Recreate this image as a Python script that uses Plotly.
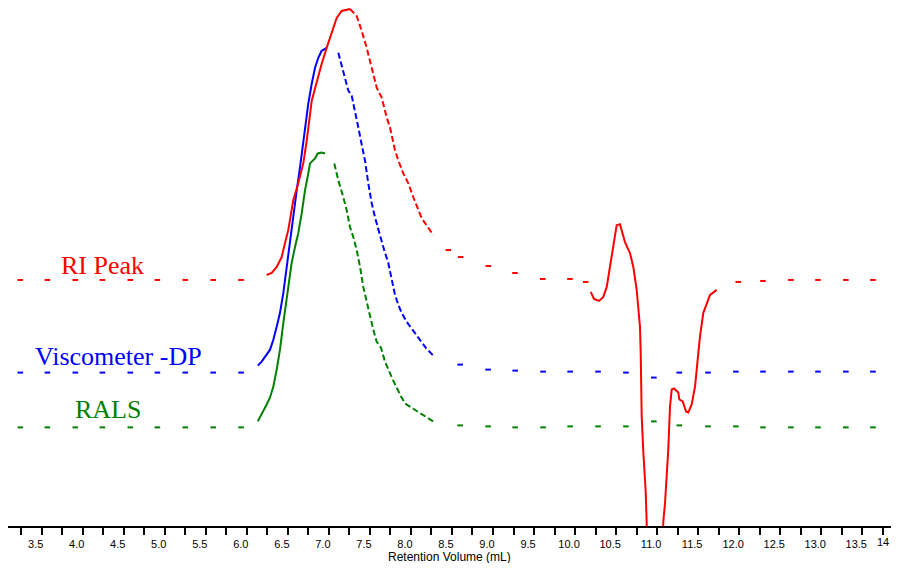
import plotly.graph_objects as go

# ---------------- data (retention volume in mL, detector response in arbitrary units) -------------
base_left_x = [3.24, 3.57, 3.91, 4.24, 4.58, 4.91, 5.25, 5.59, 5.93]
tail_x = [8.60, 8.94, 9.27, 9.61, 9.94, 10.28, 10.62, 10.96, 11.27, 11.62, 11.96,
          12.29, 12.63, 12.96, 13.30, 13.63]

# RI detector
ri_base_y = [246] * 9
ri_rise_x = [6.242, 6.303, 6.364, 6.425, 6.465, 6.505, 6.566, 6.627, 6.688, 6.730,
             6.791, 6.852, 6.912, 6.973, 7.034, 7.095, 7.156, 7.257]
ri_rise_y = [251, 253, 259, 269, 283, 296, 326, 343, 363, 386,
             426, 446, 463, 479, 493, 509, 516, 518]
ri_fall_x = [7.257, 7.339, 7.400, 7.461, 7.522, 7.583, 7.644, 7.705, 7.745, 7.806,
             7.846, 7.907, 7.968, 8.029, 8.131, 8.272]
ri_fall_y = [518, 511, 496, 479, 459, 439, 429, 409, 399, 376,
             366, 353, 343, 329, 308, 291]
ri_tail_x = [8.455, 8.606, 8.943, 9.268, 9.606, 9.938, 10.130, 11.989,
             12.29, 12.63, 12.96, 13.30, 13.63]
ri_tail_y = [276, 269, 260, 253, 247, 247, 244, 244, 245, 246, 246, 246, 246]
ri_sys_x = [10.191, 10.231, 10.292, 10.344, 10.386, 10.426, 10.466, 10.507, 10.547, 10.608,
            10.669, 10.710, 10.751, 10.771, 10.791, 10.800, 10.812, 10.832, 10.861, 10.873,
            10.890, 11.060, 11.075, 11.097, 11.136, 11.157, 11.178, 11.206, 11.258, 11.271,
            11.312, 11.352, 11.380, 11.421, 11.462, 11.482, 11.522, 11.563, 11.604, 11.645,
            11.726]
ri_sys_y = [234, 227, 225, 229, 239, 259, 283, 301, 302, 284,
            273, 259, 236, 218, 199, 173, 109, 73, 33, 1,
            -60, -60, 3, 23, 76, 119, 136, 137, 133, 126,
            124, 114, 113, 121, 139, 156, 189, 213, 223, 231,
            236]

# Viscometer -DP
dp_base_y = [153] * 9
dp_rise_x = [6.133, 6.181, 6.283, 6.323, 6.364, 6.404, 6.445, 6.486, 6.526, 6.566,
             6.608, 6.648, 6.709, 6.749, 6.791, 6.831, 6.871, 6.912, 6.973]
dp_rise_y = [160, 164, 176, 186, 199, 213, 233, 259, 286, 313,
             336, 359, 399, 423, 443, 459, 469, 476, 479]
dp_fall_x = [7.115, 7.176, 7.237, 7.278, 7.318, 7.359, 7.407, 7.440, 7.480, 7.522,
             7.562, 7.602, 7.663, 7.724, 7.773, 7.806, 7.846, 7.887, 7.948, 8.041,
             8.090, 8.180, 8.272]
dp_fall_y = [474, 456, 436, 431, 416, 399, 379, 366, 343, 323,
             309, 296, 279, 263, 243, 231, 221, 213, 204, 194,
             188, 178, 170]
dp_tail_y = [161, 156, 155, 154, 154, 154, 153, 148, 153, 153, 154,
             154, 154, 154, 154, 154]

# RALS
rals_base_y = [98] * 9
rals_rise_x = [6.133, 6.181, 6.242, 6.283, 6.323, 6.364, 6.404, 6.445, 6.486, 6.546,
               6.587, 6.627, 6.669, 6.709, 6.749, 6.770, 6.831, 6.864, 6.912, 6.953]
rals_rise_y = [104, 111, 121, 128, 139, 156, 176, 203, 226, 263,
               279, 293, 313, 336, 353, 363, 368, 373, 374, 373]
rals_fall_x = [7.066, 7.115, 7.176, 7.217, 7.257, 7.298, 7.339, 7.380, 7.419, 7.461,
               7.501, 7.541, 7.583, 7.635, 7.684, 7.724, 7.778, 7.879, 7.928, 8.098,
               8.272]
rals_fall_y = [363, 346, 329, 316, 299, 289, 276, 259, 239, 223,
               209, 196, 184, 178, 164, 156, 146, 129, 122, 113,
               104]
rals_tail_y = [100, 99, 98, 98, 99, 99, 99, 104, 100, 99, 99,
               98, 98, 98, 98, 98]

series_labels = ["RI Peak", "Viscometer -DP", "RALS"]
label_x = [4.247, 4.431, 4.309]
label_y = [261, 169, 116]

x_ticks = [3.5 + 0.5 * i for i in range(21)]
x_tick_text = ["%.1f" % v for v in x_ticks]

RED, BLUE, GREEN = "#ff0000", "#0000ff", "#008000"

fig = go.Figure()


def add_series(color, bx, by, rx, ry, fx, fy, tx, ty):
    fig.add_trace(go.Scatter(x=bx + tx, y=by + ty, mode="markers",
                             marker=dict(symbol="line-ew", size=4, color=color,
                                         line=dict(color=color, width=2)),
                             hoverinfo="skip", showlegend=False))
    fig.add_trace(go.Scatter(x=rx, y=ry, mode="lines",
                             line=dict(color=color, width=2),
                             hoverinfo="skip", showlegend=False))
    fig.add_trace(go.Scatter(x=fx, y=fy, mode="lines",
                             line=dict(color=color, width=2, dash="6px,3px"),
                             hoverinfo="skip", showlegend=False))


add_series(GREEN, base_left_x, rals_base_y, rals_rise_x, rals_rise_y,
           rals_fall_x, rals_fall_y, tail_x, rals_tail_y)
add_series(BLUE, base_left_x, dp_base_y, dp_rise_x, dp_rise_y,
           dp_fall_x, dp_fall_y, tail_x, dp_tail_y)
add_series(RED, base_left_x, ri_base_y, ri_rise_x, ri_rise_y,
           ri_fall_x, ri_fall_y, ri_tail_x, ri_tail_y)
fig.add_trace(go.Scatter(x=ri_sys_x, y=ri_sys_y, mode="lines",
                         line=dict(color=RED, width=2),
                         hoverinfo="skip", showlegend=False))

for text, lx, ly, col in zip(series_labels, label_x, label_y, [RED, BLUE, GREEN]):
    fig.add_annotation(x=lx, y=ly, xref="x", yref="y", text=text, showarrow=False,
                       font=dict(family="Liberation Serif", size=26, color=col),
                       xanchor="center", yanchor="middle")

fig.add_annotation(x=0.5, y=-0.06, xref="paper", yref="paper",
                   text="Retention Volume (mL)", showarrow=False,
                   font=dict(family="Liberation Sans", size=12, color="black"),
                   xanchor="center", yanchor="middle")
fig.add_annotation(x=1.0, y=-0.031, xref="paper", yref="paper",
                   text="14", showarrow=False,
                   font=dict(family="Liberation Sans", size=11, color="black"),
                   xanchor="right", yanchor="middle")

fig.update_layout(
    width=883, height=555,
    margin=dict(l=0, r=0, t=0, b=37),
    paper_bgcolor="white", plot_bgcolor="white",
    xaxis=dict(range=[3.0897, 13.850], showgrid=False, zeroline=False,
               showline=True, linecolor="black", linewidth=2,
               tickmode="array", tickvals=x_ticks, ticktext=x_tick_text,
               ticks="outside", ticklen=7, tickwidth=1.5, tickcolor="black",
               ticklabelshift=-6,
               tickfont=dict(family="Liberation Sans", size=11, color="black"),
               minor=dict(tickmode="array", tickvals=[3.25 + 0.5 * i for i in range(22)],
                          ticks="outside", ticklen=7, tickwidth=1.5, tickcolor="black")),
    yaxis=dict(range=[-1, 519], visible=False, showgrid=False, zeroline=False),
)

fig.write_html("out.html")
